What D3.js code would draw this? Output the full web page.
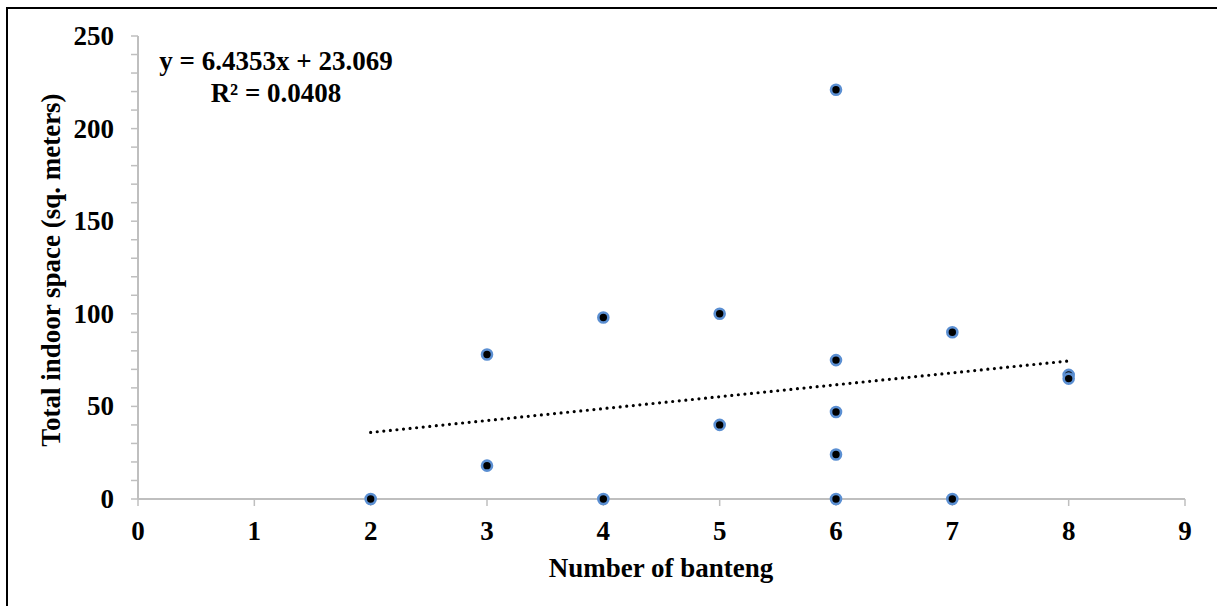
<!DOCTYPE html>
<html>
<head>
<meta charset="utf-8">
<script src="https://cdn.jsdelivr.net/npm/d3@7"></script>
<style>
  body { margin: 0; background: #fff; }
  text { font-family: "Liberation Serif", "Times New Roman", serif; font-weight: bold; fill: #000; }
</style>
</head>
<body>
<div id="chart"></div>
<script>
// number of banteng vs total indoor space
var bantengCount = [2, 3, 3, 4, 4, 5, 5, 6, 6, 6, 6, 6, 7, 7, 8, 8];
var indoorSpace  = [0, 78, 18, 98, 0, 100, 40, 221, 75, 47, 24, 0, 90, 0, 67, 65];
var xTicks = [0, 1, 2, 3, 4, 5, 6, 7, 8, 9];
var yTicks = [0, 50, 100, 150, 200, 250];
var yMinor = d3.range(0, 251, 10);
var trendSlope = 6.4353, trendIntercept = 23.069;
var trendRange = [2, 8];
var eqLines = ["y = 6.4353x + 23.069", "R\u00b2 = 0.0408"];

var width = 1217, height = 606;
var svg = d3.select("#chart").append("svg")
  .attr("width", width)
  .attr("height", height);

// outer frame (cut off at right / bottom like the original)
svg.append("rect")
  .attr("x", 7).attr("y", 8)
  .attr("width", 1240).attr("height", 700)
  .attr("fill", "none").attr("stroke", "#000").attr("stroke-width", 2);

var x = d3.scaleLinear().domain([0, 9]).range([138, 1185]);
var y = d3.scaleLinear().domain([0, 250]).range([499, 36]);
var axisCol = "#bfbfbf";

// y axis line + ticks
svg.append("line")
  .attr("x1", x(0)).attr("x2", x(0))
  .attr("y1", y(250)).attr("y2", y(0))
  .attr("stroke", axisCol).attr("stroke-width", 2);
svg.selectAll(".ytick").data(yMinor).enter().append("line")
  .attr("x1", x(0) - 7).attr("x2", x(0))
  .attr("y1", function(d) { return y(d); })
  .attr("y2", function(d) { return y(d); })
  .attr("stroke", axisCol).attr("stroke-width", 1.5);
svg.selectAll(".ylab").data(yTicks).enter().append("text")
  .attr("x", 114)
  .attr("y", function(d) { return y(d) + 9; })
  .attr("text-anchor", "end")
  .style("font-size", "27px")
  .text(function(d) { return d; });

// x axis line + ticks
svg.append("line")
  .attr("x1", x(0)).attr("x2", x(9))
  .attr("y1", y(0)).attr("y2", y(0))
  .attr("stroke", axisCol).attr("stroke-width", 2);
svg.selectAll(".xtick").data(xTicks).enter().append("line")
  .attr("x1", function(d) { return x(d); })
  .attr("x2", function(d) { return x(d); })
  .attr("y1", y(0)).attr("y2", y(0) + 7)
  .attr("stroke", axisCol).attr("stroke-width", 1.5);
svg.selectAll(".xlab").data(xTicks).enter().append("text")
  .attr("x", function(d) { return x(d); })
  .attr("y", 540)
  .attr("text-anchor", "middle")
  .style("font-size", "27px")
  .text(function(d) { return d; });

// axis titles
svg.append("text")
  .attr("x", 661).attr("y", 577)
  .attr("text-anchor", "middle")
  .style("font-size", "27px")
  .text("Number of banteng");
svg.append("text")
  .attr("transform", "translate(60,270) rotate(-90)")
  .attr("text-anchor", "middle")
  .style("font-size", "27px")
  .text("Total indoor space (sq. meters)");

// dotted linear trendline
svg.append("line")
  .attr("x1", x(trendRange[0])).attr("y1", y(trendSlope * trendRange[0] + trendIntercept))
  .attr("x2", x(trendRange[1])).attr("y2", y(trendSlope * trendRange[1] + trendIntercept))
  .attr("stroke", "#000").attr("stroke-width", 3.2)
  .attr("stroke-linecap", "round")
  .attr("stroke-dasharray", "0,6.6");

// points
svg.selectAll(".pt").data(bantengCount).enter().append("circle")
  .attr("cx", function(d) { return x(d); })
  .attr("cy", function(d, i) { return y(indoorSpace[i]); })
  .attr("r", 5)
  .attr("fill", "#000")
  .attr("stroke", "#5b8fd2").attr("stroke-width", 2.6);

// equation label
svg.selectAll(".eq").data(eqLines).enter().append("text")
  .attr("x", 276)
  .attr("y", function(d, i) { return 70 + i * 32; })
  .attr("text-anchor", "middle")
  .style("font-size", "27px")
  .text(function(d) { return d; });
</script>
</body>
</html>
